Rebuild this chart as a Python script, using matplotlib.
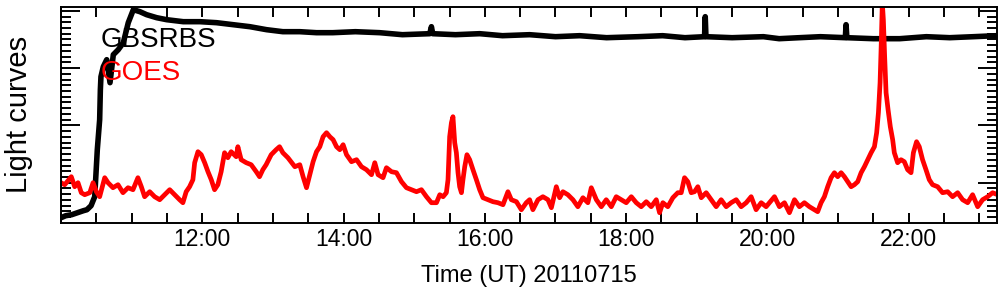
import numpy as np
import matplotlib
matplotlib.use("Agg")
from matplotlib import pyplot as plt

plt.rcParams['font.family'] = ['Liberation Sans', 'DejaVu Sans']

# tiempo en minutos desde las 10:00 UT, flujo en unidades arbitrarias
t_gbs = [0, 4, 9, 14, 19, 22, 25.5, 28.6, 30.8, 32.8, 33.4, 33.9, 35.9, 38.8, 41.6,
         44.4, 48.6, 52.9, 57.1, 61.4, 67, 72.7, 81.2, 89.7, 103.8, 118, 132.1,
         146.2, 160.4, 174.6, 188.4, 202.8, 217, 230.8, 250, 270.7, 290, 313.2,
         314.6, 315.7, 335, 355.6, 375, 398, 420, 440.5, 463.4, 490, 511, 530,
         546.6, 547.2, 547.8, 570, 596.6, 610, 627.2, 645, 666.2, 666.8, 667.5,
         690, 712.4, 735, 754.9, 775, 794.4]
f_gbs = [5, 7, 8, 10, 12, 13, 17, 26, 73, 103, 133, 146, 156, 163, 140,
         168, 173, 180, 200, 213, 211, 208, 205, 203, 201, 201, 200,
         198, 196, 193, 191, 191, 190, 190, 191, 190, 188, 189,
         196, 189, 188, 189, 187, 188, 186, 187, 185, 186, 187, 185,
         186, 206, 186, 185, 186, 184, 185, 186, 185, 198, 185,
         184, 184, 186, 185, 186, 187]

t_goes = [0, 3.1, 8.7, 11.6, 14.4, 17.2, 20.1, 24.4, 27.2, 30, 32.8, 37.1, 39.9,
          44.1, 48.4, 52.6, 56.9, 61.1, 65.3, 68.2, 71, 75.3, 79.5, 83.8, 88,
          92.3, 96.5, 100.7, 103.5, 106.3, 109.2, 112, 113.5, 116.3, 119.1, 122,
          124.8, 127.6, 130.4, 133.2, 136, 138.9, 141.7, 144.5, 148.8, 150.2,
          153, 157.3, 161.5, 165.8, 168.6, 171.4, 174.2, 178.5, 182.7, 185.6,
          188.4, 192.7, 198.6, 202.8, 205.6, 208.5, 211.3, 214.1, 217, 219.8,
          222.6, 225.5, 228.3, 231.1, 234, 236.8, 239.6, 242.5, 246.7, 251,
          255.2, 259.4, 263.7, 266.5, 269.3, 273.5, 276.4, 280.7, 284.9, 289.2,
          293.4, 297.6, 301.9, 306.1, 310.4, 314.6, 318.9, 321.7, 324.5, 327.3,
          328.7, 330.1, 331.6, 332.9, 334.4, 335.8, 337.2, 338.6, 340.1, 341.4,
          342.9, 344.8, 347.1, 349.9, 352.8, 355.6, 358.4, 362.6, 366.9, 371.1,
          375.4, 379.6, 382.5, 386.8, 391, 395.2, 398, 400.8, 405.1, 409.3,
          413.6, 416.5, 420.7, 423.5, 426.3, 430.5, 434.8, 439, 443.3, 447.5,
          450.4, 454.7, 458.9, 463.1, 467.4, 471.6, 475.9, 480.1, 484.4, 488.6,
          492.8, 497.1, 501.3, 505.6, 508.4, 511.2, 515.4, 519.7, 523.9, 526.8,
          529.6, 532.4, 535.3, 538.1, 540.9, 543.8, 548, 552.3, 556.5, 560.7,
          565, 569.2, 573.5, 577.7, 582, 586.2, 590.4, 594.7, 598.9, 606,
          610.2, 614.5, 618.7, 623, 627.2, 631.4, 635.7, 639.9, 642.7, 645.6,
          648.4, 651.2, 654.1, 656.9, 659.7, 662.6, 665.4, 668.2, 671.1, 673.9,
          676.7, 679.6, 682.4, 685.2, 688.1, 690.9, 692.8, 694.3, 695.7, 696.8,
          697.6, 698.5, 699.6, 700.8, 702.5, 704.4, 706.4, 707.8, 710.6, 713.5,
          716.3, 719.1, 722, 724, 726.7, 729, 731.8, 734.7, 737.5, 740.3,
          744.6, 748.8, 753.1, 757.3, 761.6, 765.8, 770.1, 774.3, 778.6, 782.8,
          787.1, 791.3, 795.5]
f_goes = [40, 38, 46, 36, 40, 30, 28, 30, 40, 31, 26, 45, 40,
          35, 38, 30, 35, 33, 45, 36, 26, 31, 26, 23, 28,
          33, 28, 23, 20, 31, 36, 43, 60, 71, 68, 60,
          51, 43, 33, 38, 51, 70, 65, 71, 66, 76,
          63, 60, 58, 51, 46, 53, 58, 68, 73, 76,
          70, 65, 56, 58, 46, 35, 48, 61, 71, 76,
          86, 90, 86, 83, 76, 73, 78, 68, 61, 63,
          56, 53, 48, 60, 48, 45, 55, 51, 50, 41,
          35, 33, 31, 33, 26, 20, 20, 28, 26, 30,
          43, 86, 100, 106, 80, 70, 50, 36, 30, 43,
          56, 68, 63, 53, 43, 33, 25, 23, 21, 20,
          18, 31, 23, 21, 13, 20, 23, 13, 23, 26,
          23, 15, 36, 25, 31, 28, 23, 16, 25, 20,
          35, 23, 16, 23, 16, 26, 23, 20, 26, 20,
          16, 21, 16, 23, 10, 20, 16, 25, 30, 30,
          45, 41, 30, 31, 36, 25, 30, 23, 16, 23,
          16, 20, 23, 16, 20, 26, 13, 20, 16, 26,
          16, 20, 10, 23, 16, 20, 16, 13, 11, 20,
          26, 36, 45, 50, 46, 50, 46, 41, 36, 38,
          41, 50, 56, 63, 70, 76, 90, 110, 140, 183,
          220, 203, 166, 130, 113, 96, 83, 70, 60, 63,
          61, 53, 50, 70, 81, 76, 63, 53, 43, 38,
          36, 30, 31, 26, 30, 23, 20, 28, 16, 23,
          26, 30, 28]

ticks_x = np.arange(0, 795, 30)
etiquetas_x = ['12:00', '14:00', '16:00', '18:00', '20:00', '22:00']

fig = plt.figure(figsize=(10.04, 2.96), dpi=100)
ax = fig.add_axes([0.0608, 0.2476, 0.9322, 0.7288])

ax.plot(t_gbs, f_gbs, color='black', lw=4.0)
ax.plot(t_goes, f_goes, color='red', lw=3.4)

ax.set_xlim(0, 795)
ax.set_ylim(0, 215.7)

ax.set_xticks(ticks_x)
ax.set_xticklabels([etiquetas_x[int(m // 120) - 1] if (m % 120 == 0 and m > 0) else ''
                    for m in ticks_x])
ax.set_yticks(40 + 57.3 * np.arange(4))
ax.set_yticks(np.arange(40 - 5.73 * 6, 216, 5.73), minor=True)
ax.set_yticklabels([])

ax.tick_params(axis='x', which='both', direction='in', top=True, bottom=True,
               length=7, width=1.4, labelsize=16.5, pad=4)
ax.tick_params(axis='y', which='major', direction='in', left=True, right=True,
               length=14, width=1.4)
ax.tick_params(axis='y', which='minor', direction='in', left=True, right=True,
               length=7, width=1.4)
for s in ax.spines.values():
    s.set_linewidth(1.4)

ax.set_xlabel('Time (UT) 20110715', fontsize=17, labelpad=10)
ax.set_ylabel('Light curves', fontsize=21, labelpad=17)

ax.text(0.0427, 0.815, 'GBSRBS', color='black', fontsize=20,
        transform=ax.transAxes, va='baseline')
ax.text(0.0427, 0.662, 'GOES', color='red', fontsize=20,
        transform=ax.transAxes, va='baseline')

fig.savefig('out.png', dpi=100)
